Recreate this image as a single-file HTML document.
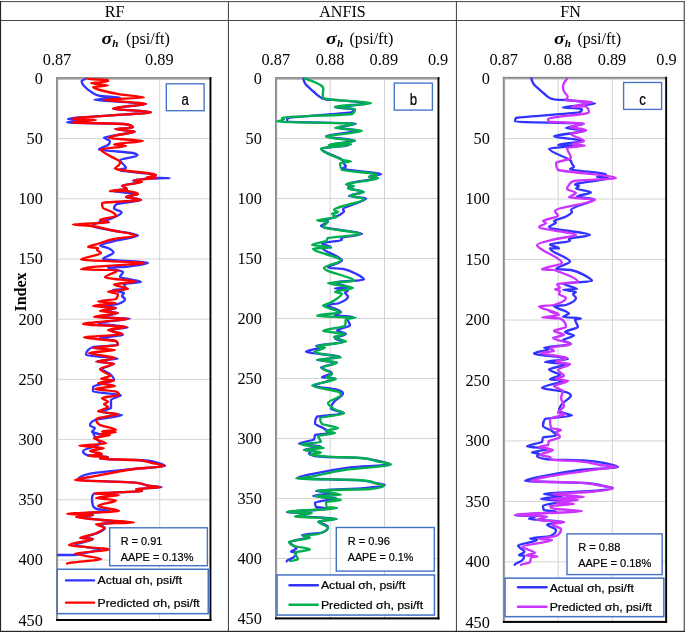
<!DOCTYPE html>
<html lang="en"><head><meta charset="utf-8"><title>Actual vs predicted minimum horizontal stress</title>
<style>html,body{margin:0;padding:0;background:#fff}body{width:685px;height:632px;overflow:hidden}svg{display:block}</style></head><body>
<svg width="685" height="632" viewBox="0 0 685 632">
<rect x="0" y="0" width="685" height="632" fill="#fff"/>
<g>
<rect x="0" y="1.1" width="685" height="1" fill="#484848"/>
<rect x="0" y="20" width="685" height="1" fill="#484848"/>
<rect x="227.9" y="1.1" width="1.1" height="631" fill="#4c4c4c"/>
<rect x="455.9" y="1.1" width="1.1" height="631" fill="#4c4c4c"/>
<rect x="683.6" y="1.1" width="1.4" height="631" fill="#686868"/>
<rect x="0" y="630.8" width="685" height="1.2" fill="#262626"/>
<rect x="0" y="1.1" width="1.1" height="631" fill="#262626"/>
</g>
<text x="114.7" y="16.5" font-family="Liberation Serif, serif" font-size="16.1" text-anchor="middle" fill="#000">RF</text>
<text x="342.5" y="16.5" font-family="Liberation Serif, serif" font-size="16.1" text-anchor="middle" fill="#000">ANFIS</text>
<text x="570.5" y="16.5" font-family="Liberation Serif, serif" font-size="16.1" text-anchor="middle" fill="#000">FN</text>
<g id="plot1">
<g stroke="#d4d4d4" stroke-width="1">
<line x1="56.0" y1="138.6" x2="211.4" y2="138.6"/>
<line x1="56.0" y1="198.8" x2="211.4" y2="198.8"/>
<line x1="56.0" y1="259.0" x2="211.4" y2="259.0"/>
<line x1="56.0" y1="319.2" x2="211.4" y2="319.2"/>
<line x1="56.0" y1="379.4" x2="211.4" y2="379.4"/>
<line x1="56.0" y1="439.6" x2="211.4" y2="439.6"/>
<line x1="56.0" y1="499.8" x2="211.4" y2="499.8"/>
<line x1="56.0" y1="560.0" x2="211.4" y2="560.0"/>
<line x1="159.7" y1="77.2" x2="159.7" y2="621.0"/>
</g>
<rect x="56.0" y="77.2" width="155.4" height="2.5" fill="#a4a4a4"/>
<rect x="56.0" y="77.2" width="2.2" height="543.8" fill="#a4a4a4"/>
<rect x="56.0" y="77.2" width="155.4" height="1.2" fill="#8c8c8c"/>
<rect x="56.0" y="77.2" width="1.2" height="543.8" fill="#8c8c8c"/>
<rect x="209.5" y="77.2" width="1.9" height="543.8" fill="#000"/>
<rect x="56.0" y="619.0" width="155.4" height="2" fill="#000"/>
<clipPath id="cp0"><rect x="56.0" y="77.2" width="155.4" height="543.8"/></clipPath>
<g clip-path="url(#cp0)" fill="none" stroke-width="2.35" stroke-linejoin="round" stroke-linecap="round">
<path d="M85.0,79.0C85.0,79.6 81.6,80.4 81.6,81.0C81.6,82.5 82.6,84.5 84.0,86.0C85.8,87.9 88.9,90.5 92.0,92.4C93.7,93.5 94.2,94.9 100.0,96.0C102.6,96.5 120.0,97.1 120.0,97.6C120.0,98.2 94.4,99.0 94.4,99.6C94.4,100.9 146.0,102.7 146.0,104.0C146.0,104.6 134.5,105.4 130.0,106.0C124.6,106.7 113.0,107.7 113.0,108.4C113.0,109.6 151.0,111.2 151.0,112.4C151.0,113.0 133.5,113.8 126.0,114.4C108.6,115.8 68.0,117.6 68.0,119.0C68.0,119.5 82.0,120.1 82.0,120.6C82.0,121.1 67.0,121.9 67.0,122.4C67.0,122.9 117.9,123.5 124.0,124.0C132.1,125.1 133.0,126.5 133.0,127.6C133.0,128.0 115.0,128.6 115.0,129.0C115.0,129.8 135.0,130.8 135.0,131.6C135.0,132.6 123.3,134.0 118.0,135.0C114.0,135.8 104.0,136.8 104.0,137.6C104.0,138.6 110.0,140.0 110.0,141.0C110.0,142.2 109.6,143.8 108.0,145.0C106.3,146.3 99.0,148.1 99.0,149.4C99.0,150.5 126.3,151.9 133.0,153.0C137.0,153.8 137.4,154.8 137.4,155.6C137.4,156.9 120.0,158.7 120.0,160.0C120.0,162.4 126.0,165.6 126.0,168.0C126.0,168.6 119.0,169.4 119.0,170.0C119.0,171.5 156.0,173.5 156.0,175.0C156.0,175.8 152.0,176.8 152.0,177.6C152.0,177.7 170.0,177.9 170.0,178.0C170.0,178.2 152.8,178.4 150.0,178.6C141.7,179.1 133.0,179.9 133.0,180.4C133.0,180.9 140.0,181.5 140.0,182.0C140.0,183.1 122.0,184.5 122.0,185.6C122.0,186.6 127.0,188.0 127.0,189.0C127.0,189.6 112.0,190.4 112.0,191.0C112.0,191.9 138.0,193.1 138.0,194.0C138.0,194.9 126.0,196.1 126.0,197.0C126.0,197.9 141.0,199.1 141.0,200.0C141.0,201.2 120.9,202.8 117.0,204.0C114.3,205.3 114.0,207.1 114.0,208.4C114.0,209.6 121.6,211.2 121.6,212.4C121.6,214.4 114.3,217.0 110.0,219.0C108.7,219.6 104.5,220.4 103.0,221.0C99.1,222.5 92.0,224.5 92.0,226.0C92.0,227.2 104.2,228.8 110.0,230.0C118.0,231.7 138.0,233.9 138.0,235.6C138.0,237.0 122.5,239.0 117.0,240.4C111.1,242.0 100.0,244.0 100.0,245.6C100.0,246.3 106.6,247.3 108.0,248.0C110.7,249.4 113.6,251.2 113.6,252.6C113.6,254.5 103.0,257.1 103.0,259.0C103.0,260.2 148.0,261.8 148.0,263.0C148.0,264.2 134.9,265.8 124.0,267.0C122.9,267.1 108.0,267.3 108.0,267.4C108.0,268.8 123.0,270.6 123.0,272.0C123.0,273.5 120.0,275.5 120.0,277.0C120.0,278.5 141.0,280.5 141.0,282.0C141.0,282.6 124.0,283.4 124.0,284.0C124.0,285.5 126.0,287.5 126.0,289.0C126.0,289.3 113.0,289.7 113.0,290.0C113.0,290.9 124.0,292.1 124.0,293.0C124.0,293.9 122.0,295.1 122.0,296.0C122.0,296.9 125.0,298.1 125.0,299.0C125.0,300.5 122.5,302.5 118.0,304.0C116.2,304.6 104.0,305.4 104.0,306.0C104.0,306.6 116.0,307.4 116.0,308.0C116.0,308.9 104.0,310.1 104.0,311.0C104.0,311.6 118.0,312.4 118.0,313.0C118.0,314.2 100.0,315.8 100.0,317.0C100.0,317.5 130.0,318.1 130.0,318.6C130.0,319.9 98.0,321.7 98.0,323.0C98.0,324.4 127.5,326.1 127.5,327.5C127.5,328.2 110.0,329.2 110.0,330.0C110.0,331.5 123.0,333.5 123.0,335.0C123.0,335.9 100.0,337.1 100.0,338.0C100.0,338.9 113.7,340.1 116.0,341.0C117.8,342.2 118.0,343.8 118.0,345.0C118.0,345.6 94.9,346.4 93.0,347.0C86.7,349.4 86.0,352.6 86.0,355.0C86.0,356.1 118.0,357.5 118.0,358.6C118.0,359.5 96.0,360.7 96.0,361.6C96.0,362.2 114.0,363.0 114.0,363.6C114.0,365.2 102.0,367.4 102.0,369.0C102.0,370.5 108.4,372.5 110.0,374.0C112.0,375.8 114.0,378.2 114.0,380.0C114.0,382.1 93.0,384.9 93.0,387.0C93.0,388.4 93.0,390.2 93.0,391.6C93.0,392.6 121.0,394.0 121.0,395.0C121.0,396.5 111.0,398.5 111.0,400.0C111.0,402.4 111.0,405.6 111.0,408.0C111.0,409.1 100.0,410.5 100.0,411.6C100.0,412.6 122.0,414.0 122.0,415.0C122.0,416.5 99.5,418.5 95.0,420.0C90.5,421.7 90.0,423.9 90.0,425.6C90.0,426.3 95.0,427.3 95.0,428.0C95.0,429.2 92.0,430.8 92.0,432.0C92.0,432.9 102.0,434.1 102.0,435.0L93.0,432.0C93.0,433.5 94.1,435.5 95.0,437.0C96.2,439.0 100.0,441.6 100.0,443.6C100.0,445.8 83.0,448.8 83.0,451.0C83.0,452.2 83.4,453.8 87.0,455.0C89.5,455.6 108.0,456.4 108.0,457.0C108.0,457.6 100.0,458.4 100.0,459.0C100.0,459.3 128.5,459.7 136.0,460.0C143.5,460.3 148.6,460.7 150.0,461.0C157.2,462.5 165.0,464.5 165.0,466.0C165.0,466.9 142.9,468.1 134.0,469.0C120.4,470.4 97.0,472.2 90.0,473.6C80.2,475.5 78.0,478.1 78.0,480.0C78.0,480.7 123.0,481.7 132.0,482.4C144.0,483.4 142.1,484.6 148.0,485.6C151.0,486.1 161.6,486.7 161.6,487.2C161.6,487.7 136.0,488.5 136.0,489.0C136.0,489.6 142.0,490.4 142.0,491.0C142.0,491.8 99.6,492.8 94.0,493.6C92.2,494.9 92.0,496.7 92.0,498.0C92.0,500.4 92.1,503.6 93.0,506.0C93.4,506.9 93.9,508.1 97.0,509.0C99.0,509.6 110.0,510.4 110.0,511.0C110.0,511.9 80.0,513.1 80.0,514.0C80.0,514.3 93.0,514.7 93.0,515.0C93.0,515.6 80.0,516.4 80.0,517.0C80.0,517.9 95.3,519.1 102.0,520.0C107.3,520.7 120.0,521.7 120.0,522.4C120.0,522.9 100.0,523.5 100.0,524.0C100.0,525.2 105.0,526.8 105.0,528.0C105.0,529.5 101.2,531.5 98.0,533.0C94.8,534.5 84.0,536.5 84.0,538.0C84.0,538.3 93.0,538.7 93.0,539.0C93.0,540.8 75.0,543.2 75.0,545.0C75.0,546.4 100.0,548.2 100.0,549.6C100.0,550.7 87.5,552.3 82.0,553.4C79.7,553.9 81.2,554.5 74.0,555.0L58.0,555.0" stroke="#3333FF"/>
<path d="M87.0,79.0C87.0,79.3 108.0,79.7 108.0,80.0C108.0,80.5 108.0,81.1 108.0,81.6C108.0,82.0 91.0,82.6 91.0,83.0C91.0,83.8 108.0,84.8 108.0,85.6C108.0,86.0 93.0,86.6 93.0,87.0C93.0,87.9 96.7,89.1 100.0,90.0C104.8,91.3 112.4,93.1 120.0,94.4C125.6,95.4 144.0,96.6 144.0,97.6C144.0,98.2 104.0,99.0 104.0,99.6C104.0,100.9 146.0,102.7 146.0,104.0C146.0,104.6 134.5,105.4 130.0,106.0C124.6,106.7 113.0,107.7 113.0,108.4C113.0,109.6 151.0,111.2 151.0,112.4C151.0,113.0 133.2,113.8 126.0,114.4C109.5,115.8 72.0,117.6 72.0,119.0C72.0,119.3 96.0,119.7 96.0,120.0C96.0,120.7 72.0,121.7 72.0,122.4C72.0,122.9 118.4,123.5 124.0,124.0C132.1,125.1 133.0,126.5 133.0,127.6C133.0,128.0 115.0,128.6 115.0,129.0C115.0,129.8 135.0,130.8 135.0,131.6C135.0,132.6 122.1,134.0 118.0,135.0C114.3,135.9 109.0,137.1 109.0,138.0C109.0,138.9 143.0,140.1 143.0,141.0C143.0,142.0 114.0,143.4 114.0,144.4C114.0,144.9 126.0,145.5 126.0,146.0C126.0,147.0 101.0,148.4 101.0,149.4C101.0,151.4 107.0,154.0 110.0,156.0C112.7,157.8 120.0,160.2 120.0,162.0C120.0,162.9 119.7,164.1 119.0,165.0C118.2,166.0 115.0,167.4 115.0,168.4C115.0,168.9 118.0,169.5 121.0,170.0C130.3,171.5 156.0,173.5 156.0,175.0C156.0,175.9 146.0,177.1 146.0,178.0L156.0,178.0C156.0,178.7 134.0,179.7 134.0,180.4C134.0,180.9 142.0,181.5 142.0,182.0C142.0,183.1 122.0,184.5 122.0,185.6C122.0,186.6 127.0,188.0 127.0,189.0C127.0,189.6 110.0,190.4 110.0,191.0L126.0,191.0C134.4,191.9 138.0,193.1 138.0,194.0C138.0,194.9 126.0,196.1 126.0,197.0C126.0,197.9 141.0,199.1 141.0,200.0C141.0,200.9 102.0,202.1 102.0,203.0C102.0,204.5 102.1,206.5 103.0,208.0C104.3,209.2 110.0,210.8 112.0,212.0C114.0,213.2 116.0,214.8 116.0,216.0C116.0,217.2 100.0,218.8 100.0,220.0C100.0,220.7 109.0,221.7 109.0,222.4C109.0,223.0 73.0,223.8 73.0,224.4C73.0,224.9 88.8,225.5 92.0,226.0C99.9,227.2 104.5,228.8 110.0,230.0C117.7,231.7 136.0,233.9 136.0,235.6C136.0,236.6 118.6,238.0 114.0,239.0C106.6,240.6 101.3,242.8 96.0,244.4C93.5,245.2 88.0,246.2 88.0,247.0C88.0,247.3 98.0,247.7 98.0,248.0C98.0,248.6 97.0,249.4 97.0,250.0C97.0,250.9 101.0,252.1 101.0,253.0C101.0,255.0 81.0,257.6 81.0,259.6C81.0,260.6 144.0,262.0 144.0,263.0C144.0,264.2 104.5,265.8 93.0,267.0C85.6,267.8 81.0,268.8 81.0,269.6C81.0,269.7 118.0,269.9 118.0,270.0C118.0,272.2 105.0,275.2 105.0,277.4C105.0,278.7 136.0,280.3 136.0,281.6C136.0,282.4 114.0,283.6 114.0,284.4C114.0,285.8 128.0,287.6 128.0,289.0C128.0,289.8 108.0,290.8 108.0,291.6C108.0,292.3 118.0,293.3 118.0,294.0C118.0,295.5 117.8,297.5 116.0,299.0C113.9,299.8 98.0,300.8 98.0,301.6C98.0,302.0 116.0,302.6 116.0,303.0C116.0,303.9 93.0,305.1 93.0,306.0C93.0,306.6 116.0,307.4 116.0,308.0C116.0,308.9 100.0,310.1 100.0,311.0C100.0,311.6 118.0,312.4 118.0,313.0C118.0,314.2 94.0,315.8 94.0,317.0C94.0,317.5 128.0,318.1 128.0,318.6C128.0,320.2 83.0,322.4 83.0,324.0C83.0,324.9 126.0,326.1 126.0,327.0C126.0,327.9 108.0,329.1 108.0,330.0C108.0,331.2 122.0,332.8 122.0,334.0C122.0,335.1 84.0,336.5 84.0,337.6C84.0,338.6 111.3,340.0 116.0,341.0C117.8,342.2 118.0,343.8 118.0,345.0C118.0,345.9 93.0,347.1 93.0,348.0C93.0,348.6 115.0,349.4 115.0,350.0C115.0,350.9 89.0,352.1 89.0,353.0C89.0,354.5 115.0,356.5 115.0,358.0C115.0,359.1 97.0,360.5 97.0,361.6C97.0,362.2 114.0,363.0 114.0,363.6C114.0,365.2 100.0,367.4 100.0,369.0C100.0,371.1 110.0,373.9 110.0,376.0C110.0,376.9 101.0,378.1 101.0,379.0C101.0,379.4 114.0,380.0 114.0,380.4C114.0,381.2 98.0,382.2 98.0,383.0C98.0,383.9 115.0,385.1 115.0,386.0C115.0,386.9 95.0,388.1 95.0,389.0C95.0,389.8 112.9,390.8 116.0,391.6C118.7,392.6 119.0,394.0 119.0,395.0C119.0,395.9 102.0,397.1 102.0,398.0C102.0,399.2 108.0,400.8 108.0,402.0C108.0,402.6 104.0,403.4 104.0,404.0C104.0,404.9 108.0,406.1 108.0,407.0C108.0,408.4 98.0,410.2 98.0,411.6C98.0,412.3 118.0,413.3 118.0,414.0C118.0,415.5 96.0,417.5 96.0,419.0C96.0,420.8 96.7,423.2 100.0,425.0C102.7,426.5 116.0,428.5 116.0,430.0C116.0,430.4 102.0,431.1 102.0,431.5C102.0,431.6 116.0,431.9 116.0,432.0C116.0,432.6 100.0,433.4 100.0,434.0C100.0,434.3 110.0,434.7 110.0,435.0C110.0,435.9 94.0,437.1 94.0,438.0C94.0,439.7 106.0,441.9 106.0,443.6C106.0,444.2 79.0,445.0 79.0,445.6C79.0,446.3 104.0,447.3 104.0,448.0C104.0,448.9 90.0,450.1 90.0,451.0C90.0,451.9 102.0,453.1 102.0,454.0C102.0,454.6 88.0,455.4 88.0,456.0C88.0,456.3 108.0,456.7 108.0,457.0C108.0,457.6 100.0,458.4 100.0,459.0C100.0,459.3 132.1,459.7 136.0,460.0C147.7,460.9 147.8,462.1 152.0,463.0C156.2,463.9 164.0,465.1 164.0,466.0C164.0,466.9 140.1,468.1 134.0,469.0C117.9,471.4 102.9,474.6 90.0,477.0C85.2,477.9 75.0,479.1 75.0,480.0C75.0,480.7 122.6,481.7 132.0,482.4C144.5,483.4 142.4,484.6 148.0,485.6C150.8,486.1 160.0,486.7 160.0,487.2C160.0,487.7 136.0,488.5 136.0,489.0C136.0,489.6 142.0,490.4 142.0,491.0C142.0,491.8 94.0,492.8 94.0,493.6C94.0,494.0 119.0,494.6 119.0,495.0C119.0,495.9 96.0,497.1 96.0,498.0C96.0,498.7 116.0,499.7 116.0,500.4C116.0,502.1 98.0,504.3 98.0,506.0C98.0,507.5 119.0,509.5 119.0,511.0C119.0,511.9 67.0,513.1 67.0,514.0C67.0,514.3 93.0,514.7 93.0,515.0C93.0,515.6 76.0,516.4 76.0,517.0C76.0,517.9 92.3,519.1 102.0,520.0C109.7,520.7 134.0,521.7 134.0,522.4C134.0,522.9 96.0,523.5 96.0,524.0C96.0,525.2 104.0,526.8 104.0,528.0C104.0,529.8 98.3,532.2 94.0,534.0C91.1,535.2 80.0,536.8 80.0,538.0C80.0,538.3 93.0,538.7 93.0,539.0C93.0,540.8 69.0,543.2 69.0,545.0C69.0,546.4 110.0,548.2 110.0,549.6C110.0,550.8 75.0,552.4 75.0,553.6C75.0,555.2 101.0,557.4 101.0,559.0C101.0,560.4 67.0,562.2 67.0,563.6" stroke="#FF0000"/>
</g>
<rect x="109.7" y="527.8" width="97.7" height="37.9" fill="#fff" stroke="#4472C4" stroke-width="1.4"/>
<g font-family="Liberation Sans, sans-serif" font-size="11.4" fill="#000" stroke="#000" stroke-width="0.2">
<text x="120.7" y="544.7" textLength="41.6" lengthAdjust="spacingAndGlyphs">R = 0.91</text>
<text x="120.7" y="560.5" textLength="72.7" lengthAdjust="spacingAndGlyphs">AAPE = 0.13%</text>
</g>
<rect x="57.25" y="569.25" width="151.00" height="44.40" fill="#fff" stroke="#4472C4" stroke-width="1.5"/>
<line x1="66.1" y1="580.4" x2="94.0" y2="580.4" stroke="#3333FF" stroke-width="2.4" stroke-linecap="round"/>
<line x1="66.1" y1="602.6" x2="94.0" y2="602.6" stroke="#FF0000" stroke-width="2.4" stroke-linecap="round"/>
<g font-family="Liberation Sans, sans-serif" font-size="11.3" fill="#000" stroke="#000" stroke-width="0.22">
<text x="97.6" y="584.2" textLength="84.6" lengthAdjust="spacingAndGlyphs">Actual σh, psi/ft</text>
<text x="97.6" y="606.6" textLength="102.1" lengthAdjust="spacingAndGlyphs">Predicted σh, psi/ft</text>
</g>
<rect x="166.3" y="83.8" width="37.8" height="26.9" fill="#fff" stroke="#4472C4" stroke-width="1.35"/>
<text transform="translate(185.2,104.6) scale(0.84,1)" font-family="Liberation Sans, sans-serif" font-size="15.8" text-anchor="middle" fill="#000" stroke="#000" stroke-width="0.2">a</text>
<text x="42.9" y="83.8" font-family="Liberation Serif, serif" font-size="16.3" text-anchor="end" fill="#000">0</text>
<text x="42.9" y="144.0" font-family="Liberation Serif, serif" font-size="16.3" text-anchor="end" fill="#000">50</text>
<text x="42.9" y="204.2" font-family="Liberation Serif, serif" font-size="16.3" text-anchor="end" fill="#000">100</text>
<text x="42.9" y="264.4" font-family="Liberation Serif, serif" font-size="16.3" text-anchor="end" fill="#000">150</text>
<text x="42.9" y="324.6" font-family="Liberation Serif, serif" font-size="16.3" text-anchor="end" fill="#000">200</text>
<text x="42.9" y="384.8" font-family="Liberation Serif, serif" font-size="16.3" text-anchor="end" fill="#000">250</text>
<text x="42.9" y="445.0" font-family="Liberation Serif, serif" font-size="16.3" text-anchor="end" fill="#000">300</text>
<text x="42.9" y="505.2" font-family="Liberation Serif, serif" font-size="16.3" text-anchor="end" fill="#000">350</text>
<text x="42.9" y="565.4" font-family="Liberation Serif, serif" font-size="16.3" text-anchor="end" fill="#000">400</text>
<text x="42.9" y="625.6" font-family="Liberation Serif, serif" font-size="16.3" text-anchor="end" fill="#000">450</text>
<text x="57" y="64.5" font-family="Liberation Serif, serif" font-size="16.3" text-anchor="middle" fill="#000">0.87</text>
<text x="159.3" y="64.5" font-family="Liberation Serif, serif" font-size="16.3" text-anchor="middle" fill="#000">0.89</text>
<text transform="translate(101.5,43.5) scale(1.2,1)" font-family="Liberation Serif, serif" font-size="16.5" font-weight="bold" font-style="italic" fill="#000">σ</text>
<text x="112.3" y="46.7" font-family="Liberation Serif, serif" font-size="11" font-weight="bold" font-style="italic" fill="#000">h</text>
<text x="126.1" y="43.5" font-family="Liberation Serif, serif" font-size="16.1" fill="#000">(psi/ft)</text>
</g>
<g id="plot2">
<g stroke="#d4d4d4" stroke-width="1">
<line x1="275.0" y1="138.5" x2="439.4" y2="138.5"/>
<line x1="275.0" y1="198.5" x2="439.4" y2="198.5"/>
<line x1="275.0" y1="258.5" x2="439.4" y2="258.5"/>
<line x1="275.0" y1="318.5" x2="439.4" y2="318.5"/>
<line x1="275.0" y1="378.5" x2="439.4" y2="378.5"/>
<line x1="275.0" y1="438.5" x2="439.4" y2="438.5"/>
<line x1="275.0" y1="498.5" x2="439.4" y2="498.5"/>
<line x1="275.0" y1="558.5" x2="439.4" y2="558.5"/>
<line x1="330.2" y1="77.2" x2="330.2" y2="619.4"/>
<line x1="384.5" y1="77.2" x2="384.5" y2="619.4"/>
</g>
<rect x="275.0" y="77.2" width="164.4" height="2.5" fill="#a4a4a4"/>
<rect x="275.0" y="77.2" width="2.2" height="542.2" fill="#a4a4a4"/>
<rect x="275.0" y="77.2" width="164.4" height="1.2" fill="#8c8c8c"/>
<rect x="275.0" y="77.2" width="1.2" height="542.2" fill="#8c8c8c"/>
<rect x="437.5" y="77.2" width="1.9" height="542.2" fill="#000"/>
<rect x="275.0" y="617.4" width="164.4" height="2" fill="#000"/>
<clipPath id="cp1"><rect x="275.0" y="77.2" width="164.39999999999998" height="542.1999999999999"/></clipPath>
<g clip-path="url(#cp1)" fill="none" stroke-width="2.35" stroke-linejoin="round" stroke-linecap="round">
<path d="M303.4,78.6C303.4,79.3 303.7,80.3 304.0,81.0C304.4,82.0 305.0,83.4 305.8,84.5C306.6,85.5 308.2,86.9 309.3,87.9C310.6,89.1 312.6,90.8 314.0,92.0C315.4,93.2 317.1,94.8 318.7,96.1C319.6,96.7 320.7,97.7 322.2,98.3C323.0,98.7 324.1,99.2 326.3,99.5C327.0,99.7 329.7,99.8 332.0,99.9L338.0,100.1C347.9,101.1 367.0,102.5 367.0,103.5C367.0,104.7 335.0,106.3 335.0,107.5C335.0,107.9 354.0,108.6 354.0,109.1C354.0,110.1 353.7,111.4 351.0,112.4C338.7,114.1 299.7,116.3 288.0,118.0C287.1,119.1 287.0,120.5 287.0,121.6C287.0,122.2 356.0,123.0 356.0,123.5C356.0,124.9 338.0,126.6 338.0,127.9C338.0,128.7 358.0,129.7 358.0,130.5C358.0,132.2 326.0,134.5 326.0,136.2C326.0,137.6 355.0,139.4 355.0,140.8C355.0,142.0 330.0,143.6 330.0,144.8C330.0,145.0 348.0,145.2 348.0,145.4C348.0,146.3 321.0,147.5 321.0,148.4C321.0,151.7 336.9,156.3 342.0,159.7C343.8,160.9 343.3,162.4 344.0,163.6C344.5,164.5 346.0,165.7 346.0,166.6C346.0,167.2 342.0,168.0 342.0,168.6C342.0,170.3 381.0,172.5 381.0,174.2C381.0,174.9 369.0,175.8 369.0,176.5C369.0,176.8 377.0,177.2 377.0,177.5C377.0,179.5 347.0,182.1 347.0,184.1C347.0,184.5 351.0,185.0 351.0,185.5C351.0,186.2 348.0,187.1 348.0,187.8C348.0,189.0 363.0,190.6 363.0,191.8C363.0,193.1 349.0,194.7 349.0,196.0C349.0,196.7 366.0,197.6 366.0,198.4C366.0,201.6 343.0,206.0 343.0,209.3C343.0,209.9 344.0,210.7 344.0,211.3C344.0,212.7 340.0,214.7 337.0,216.2C334.6,217.4 326.0,219.0 326.0,220.2C326.0,220.6 328.0,221.2 328.0,221.6C328.0,222.9 321.0,224.8 321.0,226.1C321.0,228.5 362.0,231.7 362.0,234.1C362.0,235.3 341.0,236.9 341.0,238.0C341.0,238.6 342.0,239.4 342.0,240.0C342.0,241.0 322.0,242.4 322.0,243.4C322.0,244.6 331.0,246.2 331.0,247.4L322.0,247.4C322.0,251.3 342.0,256.5 342.0,260.5C342.0,262.7 328.0,265.6 328.0,267.8C328.0,268.1 341.6,268.5 343.0,268.8C350.0,270.3 353.1,272.3 356.0,273.8C359.4,275.6 364.0,277.9 364.0,279.7C364.0,280.5 335.0,281.5 335.0,282.3C335.0,283.9 349.0,286.0 349.0,287.7C349.0,287.8 335.0,288.1 335.0,288.3C335.0,289.0 348.0,289.9 348.0,290.6C348.0,291.2 345.0,292.0 345.0,292.6C345.0,293.8 348.0,295.4 348.0,296.6C348.0,298.7 343.8,301.4 338.0,303.5C337.2,303.8 326.0,304.2 326.0,304.5C326.0,306.0 334.0,308.0 337.0,309.5C338.5,310.3 341.0,311.3 341.0,312.1C341.0,313.1 335.0,314.4 335.0,315.4C335.0,315.9 353.0,316.4 353.0,316.8C353.0,317.2 347.0,317.7 347.0,318.0C347.0,320.2 350.0,323.2 350.0,325.4C350.0,326.8 337.0,328.8 337.0,330.3C337.0,331.4 346.0,332.8 346.0,333.9C346.0,335.2 335.0,336.9 335.0,338.3C335.0,339.4 343.0,341.0 343.0,342.2C343.0,343.3 316.0,344.7 316.0,345.8C316.0,346.2 321.0,346.8 321.0,347.2C321.0,348.5 306.0,350.2 306.0,351.6C306.0,353.2 340.0,355.4 340.0,357.1C340.0,358.0 317.0,359.2 317.0,360.1C317.0,360.8 337.0,361.8 337.0,362.5C337.0,364.0 321.0,366.1 321.0,367.6C321.0,369.2 332.0,371.4 332.0,373.0C332.0,374.3 322.0,376.0 322.0,377.4C322.0,377.6 335.0,378.0 335.0,378.3C335.0,380.6 314.0,383.6 314.0,385.9C314.0,387.0 331.9,388.4 336.0,389.5C340.6,390.6 343.0,392.2 343.0,393.4C343.0,395.6 337.1,398.6 335.0,400.8C333.8,402.0 332.6,403.5 332.0,404.7C331.4,405.9 331.0,407.5 331.0,408.7C331.0,410.1 344.0,411.9 344.0,413.3C344.0,414.3 319.8,415.6 317.0,416.6C315.2,418.7 315.0,421.5 315.0,423.6C315.0,425.1 322.0,427.1 324.0,428.5C325.9,429.9 328.0,431.7 328.0,433.1C328.0,433.7 316.3,434.5 315.0,435.1C314.1,436.4 314.9,438.2 314.0,439.5C311.6,440.8 299.0,442.5 299.0,443.8C299.0,444.6 321.0,445.6 321.0,446.4C321.0,447.4 304.0,448.8 304.0,449.8C304.0,450.1 311.0,450.6 311.0,451.0C311.0,451.7 309.0,452.6 309.0,453.4C309.0,454.4 311.5,455.9 323.0,456.9C325.6,457.2 352.3,457.5 356.0,457.7C368.2,458.5 372.0,459.5 376.0,460.3C382.2,461.5 390.0,463.1 390.0,464.3C390.0,465.2 359.1,466.4 352.0,467.2C335.4,469.3 321.5,472.1 311.0,474.2C305.0,475.4 297.0,477.0 297.0,478.2C297.0,478.8 347.5,479.5 357.0,480.1C371.2,481.0 371.0,482.2 376.0,483.1C379.4,483.7 385.0,484.5 385.0,485.1C385.0,486.0 374.3,487.2 364.0,488.1C353.6,489.0 316.0,490.2 316.0,491.1C316.0,491.7 334.0,492.4 334.0,493.0C334.0,493.9 313.0,495.1 313.0,496.0C313.0,496.6 336.0,497.4 336.0,498.0C336.0,499.4 315.0,501.2 315.0,502.6C315.0,503.9 315.1,505.6 316.0,506.9C317.0,507.4 328.0,508.0 328.0,508.5C328.0,509.7 287.0,511.3 287.0,512.5C287.0,512.6 308.0,512.8 308.0,512.9C308.0,513.8 301.0,515.0 301.0,515.9C301.0,516.8 336.0,517.9 336.0,518.8C336.0,519.6 319.0,520.5 319.0,521.2C319.0,522.9 328.0,525.1 328.0,526.8C328.0,528.6 327.4,530.9 322.0,532.7C319.8,533.4 302.0,534.4 302.0,535.1C302.0,535.6 309.0,536.2 309.0,536.7C309.0,538.4 290.0,540.6 290.0,542.3C290.0,544.2 296.5,546.7 296.5,548.6C296.5,549.6 291.0,550.8 291.0,551.8C291.0,551.9 296.3,552.1 296.3,552.3C296.3,553.7 295.5,555.6 294.0,557.0C292.7,558.3 286.7,560.0 286.7,561.2" stroke="#3333FF"/>
<path d="M304.7,78.2C304.7,78.9 309.2,79.9 310.9,80.6C313.1,81.5 316.1,82.8 318.0,83.7C319.5,84.5 321.4,85.5 322.1,86.2C323.0,87.1 323.3,88.4 323.3,89.3C323.3,90.8 322.8,92.9 322.8,94.4C322.8,95.3 322.8,96.4 322.8,97.3C322.8,97.8 324.3,98.5 327.2,99.0C329.4,99.4 335.7,99.9 340.0,100.3C348.9,101.1 371.0,102.2 371.0,103.0C371.0,104.2 335.0,105.8 335.0,107.0C335.0,107.6 355.0,108.4 355.0,109.0C355.0,110.5 354.7,112.5 352.0,114.0C342.5,115.1 282.0,116.7 282.0,117.8C282.0,118.3 284.0,119.1 284.0,119.6C284.0,120.2 276.5,121.0 276.5,121.6C276.5,122.2 355.0,123.0 355.0,123.6C355.0,124.9 335.0,126.7 335.0,128.0C335.0,128.8 362.0,129.8 362.0,130.6C362.0,132.5 326.0,135.1 326.0,137.0C326.0,138.2 355.0,139.8 355.0,141.0C355.0,142.2 329.0,143.8 329.0,145.0L351.0,144.4C351.0,145.7 321.0,147.3 321.0,148.6C321.0,152.0 335.1,156.6 343.0,160.0C344.1,160.5 351.0,161.1 351.0,161.6C351.0,162.0 340.0,162.6 340.0,163.0C340.0,165.1 340.2,167.9 342.0,170.0C346.3,171.3 377.0,173.1 377.0,174.4C377.0,175.2 369.0,176.2 369.0,177.0C369.0,177.3 378.0,177.7 378.0,178.0C378.0,180.0 346.0,182.6 346.0,184.6C346.0,185.0 354.0,185.6 354.0,186.0C354.0,186.7 348.0,187.7 348.0,188.4C348.0,189.5 364.0,190.9 364.0,192.0C364.0,193.1 350.0,194.5 350.0,195.6C350.0,196.6 364.0,198.0 364.0,199.0C364.0,202.3 334.0,206.7 334.0,210.0C334.0,210.6 338.0,211.4 338.0,212.0C338.0,212.6 332.0,213.4 332.0,214.0C332.0,214.9 337.0,216.1 337.0,217.0C337.0,218.0 317.0,219.4 317.0,220.4C317.0,220.8 328.0,221.2 328.0,221.6C328.0,223.2 323.0,225.4 323.0,227.0C323.0,229.1 360.0,231.9 360.0,234.0C360.0,235.2 333.8,236.8 328.0,238.0C326.2,238.9 327.8,240.1 326.0,241.0C323.3,242.2 312.0,243.8 312.0,245.0C312.0,245.7 331.0,246.7 331.0,247.4C331.0,247.8 313.0,248.2 313.0,248.6C313.0,252.1 341.0,256.9 341.0,260.4C341.0,262.7 324.0,265.7 324.0,268.0C324.0,271.9 354.0,277.1 354.0,281.0C354.0,281.6 328.0,282.4 328.0,283.0C328.0,284.5 353.0,286.5 353.0,288.0C353.0,289.2 335.0,290.8 335.0,292.0C335.0,292.5 342.0,293.1 342.0,293.6C342.0,296.4 334.5,300.2 330.0,303.0C328.8,303.8 323.0,304.8 323.0,305.6C323.0,307.6 340.0,310.4 340.0,312.4C340.0,313.4 317.0,314.6 317.0,315.6C317.0,315.7 317.0,315.9 317.0,316.0C317.0,316.5 356.0,317.1 356.0,317.6C356.0,318.0 346.6,318.6 346.0,319.0C345.1,321.1 345.9,323.9 345.0,326.0C342.1,327.5 323.0,329.5 323.0,331.0C323.0,331.9 345.0,333.1 345.0,334.0C345.0,334.9 334.0,336.1 334.0,337.0C334.0,338.4 346.0,340.2 346.0,341.6C346.0,343.0 317.0,345.0 317.0,346.4C317.0,346.8 325.0,347.2 325.0,347.6C325.0,348.9 314.0,350.7 314.0,352.0C314.0,353.7 341.0,355.9 341.0,357.6C341.0,358.2 317.0,359.0 317.0,359.6C317.0,360.4 337.0,361.6 337.0,362.4C337.0,364.1 322.0,366.3 322.0,368.0C322.0,369.8 332.0,372.2 332.0,374.0C332.0,375.2 326.0,376.8 326.0,378.0C326.0,378.3 336.0,378.7 336.0,379.0C336.0,381.0 312.0,383.6 312.0,385.6C312.0,387.4 332.4,389.8 338.0,391.6C340.7,392.6 341.0,394.0 341.0,395.0C341.0,397.4 328.0,400.6 328.0,403.0C328.0,404.8 331.3,407.2 334.0,409.0C336.1,410.4 344.0,412.2 344.0,413.6C344.0,414.9 320.0,416.7 320.0,418.0C320.0,419.8 320.2,422.2 322.0,424.0C324.2,425.2 338.0,426.8 338.0,428.0C338.0,428.9 326.0,430.1 326.0,431.0C326.0,431.6 335.0,432.4 335.0,433.0C335.0,433.9 318.0,435.1 318.0,436.0C318.0,437.8 321.0,440.2 321.0,442.0C321.0,442.7 301.0,443.7 301.0,444.4C301.0,445.5 324.0,446.9 324.0,448.0C324.0,448.6 304.0,449.4 304.0,450.0C304.0,450.7 321.0,451.7 321.0,452.4C321.0,453.0 310.0,453.8 310.0,454.4C310.0,455.1 318.5,455.9 328.0,456.6C334.1,457.0 357.4,457.6 362.0,458.0C371.8,458.9 371.9,460.1 376.0,461.0C380.6,462.0 391.0,463.4 391.0,464.4C391.0,466.1 354.9,468.3 344.0,470.0C330.3,472.1 320.7,474.9 309.0,477.0C306.3,477.5 296.0,478.1 296.0,478.6C296.0,479.0 351.2,479.6 358.0,480.0C375.1,481.1 372.0,482.5 377.0,483.6C379.8,484.2 384.0,485.0 384.0,485.6C384.0,486.6 382.6,488.0 370.0,489.0C363.6,489.5 317.0,490.1 317.0,490.6C317.0,491.3 329.1,492.3 333.0,493.0C336.3,493.6 341.0,494.4 341.0,495.0C341.0,495.3 315.0,495.7 315.0,496.0C315.0,497.2 341.0,498.8 341.0,500.0C341.0,500.6 326.0,501.4 326.0,502.0C326.0,503.5 326.1,505.5 327.0,507.0C327.6,507.3 337.0,507.7 337.0,508.0C337.0,509.2 287.0,510.8 287.0,512.0C287.0,512.3 312.0,512.7 312.0,513.0C312.0,514.0 295.0,515.4 295.0,516.4C295.0,517.2 337.0,518.2 337.0,519.0C337.0,519.8 318.0,520.8 318.0,521.6C318.0,523.5 328.0,526.1 328.0,528.0C328.0,529.8 323.6,532.2 318.0,534.0C316.1,534.6 303.0,535.4 303.0,536.0C303.0,536.6 310.0,537.4 310.0,538.0C310.0,539.1 289.0,540.5 289.0,541.6C289.0,542.9 290.4,544.7 294.0,546.0C296.7,547.0 310.0,548.4 310.0,549.4C310.0,550.4 295.0,551.6 295.0,552.6C295.0,554.7 298.0,557.5 298.0,559.6C298.0,560.0 290.0,560.6 290.0,561.0" stroke="#00B050"/>
</g>
<rect x="336.3" y="527.5" width="98.0" height="43.6" fill="#fff" stroke="#4472C4" stroke-width="1.4"/>
<g font-family="Liberation Sans, sans-serif" font-size="11.4" fill="#000" stroke="#000" stroke-width="0.2">
<text x="347.7" y="545.1" textLength="42.2" lengthAdjust="spacingAndGlyphs">R = 0.96</text>
<text x="347.7" y="561.2" textLength="65.8" lengthAdjust="spacingAndGlyphs">AAPE = 0.1%</text>
</g>
<rect x="277.05" y="574.95" width="157.40" height="40.10" fill="#fff" stroke="#4472C4" stroke-width="1.5"/>
<line x1="289.5" y1="585.3" x2="317.8" y2="585.3" stroke="#3333FF" stroke-width="2.4" stroke-linecap="round"/>
<line x1="289.5" y1="604.7" x2="317.8" y2="604.7" stroke="#00B050" stroke-width="2.4" stroke-linecap="round"/>
<g font-family="Liberation Sans, sans-serif" font-size="11.3" fill="#000" stroke="#000" stroke-width="0.22">
<text x="320.9" y="589.3" textLength="84.4" lengthAdjust="spacingAndGlyphs">Actual σh, psi/ft</text>
<text x="320.9" y="608.8" textLength="102.3" lengthAdjust="spacingAndGlyphs">Predicted σh, psi/ft</text>
</g>
<rect x="394.3" y="83.1" width="38.1" height="27.0" fill="#fff" stroke="#4472C4" stroke-width="1.35"/>
<text transform="translate(413.4,104.6) scale(0.84,1)" font-family="Liberation Sans, sans-serif" font-size="15.8" text-anchor="middle" fill="#000" stroke="#000" stroke-width="0.2">b</text>
<text x="261.9" y="83.9" font-family="Liberation Serif, serif" font-size="16.3" text-anchor="end" fill="#000">0</text>
<text x="261.9" y="143.9" font-family="Liberation Serif, serif" font-size="16.3" text-anchor="end" fill="#000">50</text>
<text x="261.9" y="203.9" font-family="Liberation Serif, serif" font-size="16.3" text-anchor="end" fill="#000">100</text>
<text x="261.9" y="263.9" font-family="Liberation Serif, serif" font-size="16.3" text-anchor="end" fill="#000">150</text>
<text x="261.9" y="323.9" font-family="Liberation Serif, serif" font-size="16.3" text-anchor="end" fill="#000">200</text>
<text x="261.9" y="383.9" font-family="Liberation Serif, serif" font-size="16.3" text-anchor="end" fill="#000">250</text>
<text x="261.9" y="443.9" font-family="Liberation Serif, serif" font-size="16.3" text-anchor="end" fill="#000">300</text>
<text x="261.9" y="503.9" font-family="Liberation Serif, serif" font-size="16.3" text-anchor="end" fill="#000">350</text>
<text x="261.9" y="563.9" font-family="Liberation Serif, serif" font-size="16.3" text-anchor="end" fill="#000">400</text>
<text x="261.9" y="623.9" font-family="Liberation Serif, serif" font-size="16.3" text-anchor="end" fill="#000">450</text>
<text x="275.8" y="64.5" font-family="Liberation Serif, serif" font-size="16.3" text-anchor="middle" fill="#000">0.87</text>
<text x="330.1" y="64.5" font-family="Liberation Serif, serif" font-size="16.3" text-anchor="middle" fill="#000">0.88</text>
<text x="383.8" y="64.5" font-family="Liberation Serif, serif" font-size="16.3" text-anchor="middle" fill="#000">0.89</text>
<text x="438.1" y="64.5" font-family="Liberation Serif, serif" font-size="16.3" text-anchor="middle" fill="#000">0.9</text>
<text transform="translate(326.1,43.5) scale(1.2,1)" font-family="Liberation Serif, serif" font-size="16.5" font-weight="bold" font-style="italic" fill="#000">σ</text>
<text x="336.90000000000003" y="46.7" font-family="Liberation Serif, serif" font-size="11" font-weight="bold" font-style="italic" fill="#000">h</text>
<text x="349.5" y="43.5" font-family="Liberation Serif, serif" font-size="16.1" fill="#000">(psi/ft)</text>
</g>
<g id="plot3">
<g stroke="#d4d4d4" stroke-width="1">
<line x1="502.9" y1="138.6" x2="667.1" y2="138.6"/>
<line x1="502.9" y1="199.0" x2="667.1" y2="199.0"/>
<line x1="502.9" y1="259.5" x2="667.1" y2="259.5"/>
<line x1="502.9" y1="320.0" x2="667.1" y2="320.0"/>
<line x1="502.9" y1="380.4" x2="667.1" y2="380.4"/>
<line x1="502.9" y1="440.9" x2="667.1" y2="440.9"/>
<line x1="502.9" y1="501.4" x2="667.1" y2="501.4"/>
<line x1="502.9" y1="561.8" x2="667.1" y2="561.8"/>
<line x1="558.2" y1="76.9" x2="558.2" y2="622.9"/>
<line x1="612.3" y1="76.9" x2="612.3" y2="622.9"/>
</g>
<rect x="502.9" y="76.9" width="164.2" height="2.5" fill="#a4a4a4"/>
<rect x="502.9" y="76.9" width="2.2" height="546.0" fill="#a4a4a4"/>
<rect x="502.9" y="76.9" width="164.2" height="1.2" fill="#8c8c8c"/>
<rect x="502.9" y="76.9" width="1.2" height="546.0" fill="#8c8c8c"/>
<rect x="665.2" y="76.9" width="1.9" height="546.0" fill="#000"/>
<rect x="502.9" y="620.9" width="164.2" height="2" fill="#000"/>
<clipPath id="cp2"><rect x="502.9" y="76.9" width="164.20000000000005" height="546.0"/></clipPath>
<g clip-path="url(#cp2)" fill="none" stroke-width="2.35" stroke-linejoin="round" stroke-linecap="round">
<path d="M531.4,78.3C531.4,79.0 531.7,80.0 532.0,80.7C532.4,81.8 533.0,83.2 533.8,84.2C534.6,85.2 536.2,86.7 537.3,87.7C538.6,88.9 540.6,90.6 542.0,91.8C543.4,93.0 545.1,94.7 546.7,95.9C547.6,96.6 548.7,97.5 550.2,98.2C551.0,98.6 552.1,99.0 554.3,99.4C555.0,99.5 557.7,99.7 560.0,99.8L566.0,100.0C575.9,101.0 595.0,102.4 595.0,103.4C595.0,104.6 563.0,106.2 563.0,107.4C563.0,107.9 582.0,108.5 582.0,109.0C582.0,110.0 581.7,111.4 579.0,112.4C566.7,114.1 527.7,116.3 516.0,118.0C515.1,119.1 515.0,120.5 515.0,121.6C515.0,122.2 584.0,123.0 584.0,123.6C584.0,124.9 566.0,126.7 566.0,128.0C566.0,128.8 586.0,129.8 586.0,130.6C586.0,132.3 554.0,134.7 554.0,136.4C554.0,137.8 583.0,139.6 583.0,141.0C583.0,142.2 558.0,143.8 558.0,145.0C558.0,145.2 576.0,145.4 576.0,145.6C576.0,146.5 549.0,147.7 549.0,148.6C549.0,152.0 564.9,156.6 570.0,160.0C571.8,161.2 571.3,162.8 572.0,164.0C572.5,164.9 574.0,166.1 574.0,167.0C574.0,167.6 570.0,168.4 570.0,169.0C570.0,170.6 606.0,172.8 606.0,174.4C606.0,175.2 597.0,176.2 597.0,177.0C597.0,177.3 608.0,177.7 608.0,178.0C608.0,180.0 575.0,182.6 575.0,184.6C575.0,185.0 579.0,185.6 579.0,186.0C579.0,186.7 576.0,187.7 576.0,188.4C576.0,189.6 591.0,191.2 591.0,192.4C591.0,193.7 577.0,195.3 577.0,196.6C577.0,197.3 594.0,198.3 594.0,199.0C594.0,202.3 571.0,206.7 571.0,210.0C571.0,210.6 572.0,211.4 572.0,212.0C572.0,213.5 568.0,215.5 565.0,217.0C562.6,218.2 554.0,219.8 554.0,221.0C554.0,221.4 556.0,222.0 556.0,222.4C556.0,223.8 549.0,225.6 549.0,227.0C549.0,229.4 590.0,232.6 590.0,235.0C590.0,236.2 569.0,237.8 569.0,239.0C569.0,239.6 570.0,240.4 570.0,241.0C570.0,242.0 550.0,243.4 550.0,244.4C550.0,245.6 559.0,247.2 559.0,248.4L550.0,248.4C550.0,252.4 570.0,257.6 570.0,261.6C570.0,263.8 556.0,266.8 556.0,269.0C556.0,269.3 569.6,269.7 571.0,270.0C578.0,271.5 581.1,273.5 584.0,275.0C587.4,276.8 592.0,279.2 592.0,281.0C592.0,281.8 563.0,282.8 563.0,283.6C563.0,285.2 577.0,287.4 577.0,289.0C577.0,289.2 563.0,289.4 563.0,289.6C563.0,290.3 576.0,291.3 576.0,292.0C576.0,292.6 573.0,293.4 573.0,294.0C573.0,295.2 576.0,296.8 576.0,298.0C576.0,300.1 571.8,302.9 566.0,305.0C565.2,305.3 554.0,305.7 554.0,306.0C554.0,307.5 562.0,309.5 565.0,311.0C566.5,311.8 569.0,312.8 569.0,313.6C569.0,314.6 563.0,316.0 563.0,317.0C563.0,317.4 581.0,318.0 581.0,318.4C581.0,318.8 575.0,319.2 575.0,319.6C575.0,321.8 578.0,324.8 578.0,327.0C578.0,328.5 565.0,330.5 565.0,332.0C565.0,333.1 574.0,334.5 574.0,335.6C574.0,336.9 563.0,338.7 563.0,340.0C563.0,341.2 571.0,342.8 571.0,344.0C571.0,345.1 544.0,346.5 544.0,347.6C544.0,348.0 549.0,348.6 549.0,349.0C549.0,350.3 534.0,352.1 534.0,353.4C534.0,355.1 568.0,357.3 568.0,359.0C568.0,359.9 545.0,361.1 545.0,362.0C545.0,362.7 565.0,363.7 565.0,364.4C565.0,366.0 549.0,368.0 549.0,369.6C549.0,371.2 560.0,373.4 560.0,375.0C560.0,376.3 550.0,378.1 550.0,379.4C550.0,379.7 563.0,380.1 563.0,380.4C563.0,382.7 542.0,385.7 542.0,388.0C542.0,389.1 559.9,390.5 564.0,391.6C568.6,392.8 571.0,394.4 571.0,395.6C571.0,397.8 565.1,400.8 563.0,403.0C561.8,404.2 560.6,405.8 560.0,407.0C559.4,408.2 559.0,409.8 559.0,411.0C559.0,412.4 572.0,414.2 572.0,415.6C572.0,416.6 547.8,418.0 545.0,419.0C543.2,421.1 543.0,423.9 543.0,426.0C543.0,427.5 550.0,429.5 552.0,431.0C553.9,432.4 556.0,434.2 556.0,435.6C556.0,436.2 544.3,437.0 543.0,437.6C542.1,438.9 542.9,440.7 542.0,442.0C539.6,443.3 527.0,445.1 527.0,446.4C527.0,447.2 549.0,448.2 549.0,449.0C549.0,450.0 532.0,451.4 532.0,452.4C532.0,452.8 539.0,453.2 539.0,453.6C539.0,454.3 537.0,455.3 537.0,456.0C537.0,457.1 539.5,458.5 551.0,459.6C553.6,459.8 580.3,460.2 584.0,460.4C596.2,461.2 600.0,462.2 604.0,463.0C610.2,464.2 618.0,465.8 618.0,467.0C618.0,467.9 587.1,469.1 580.0,470.0C563.4,472.1 549.5,474.9 539.0,477.0C533.0,478.2 525.0,479.8 525.0,481.0C525.0,481.6 575.5,482.4 585.0,483.0C599.2,483.9 599.0,485.1 604.0,486.0C607.4,486.6 613.0,487.4 613.0,488.0C613.0,488.9 602.4,490.1 592.0,491.0C581.6,491.9 544.0,493.1 544.0,494.0C544.0,494.6 562.0,495.4 562.0,496.0C562.0,496.9 541.0,498.1 541.0,499.0C541.0,499.6 564.0,500.4 564.0,501.0C564.0,502.4 543.0,504.2 543.0,505.6C543.0,506.9 543.1,508.7 544.0,510.0C545.0,510.5 556.0,511.1 556.0,511.6C556.0,512.8 515.0,514.4 515.0,515.6C515.0,515.7 536.0,515.9 536.0,516.0C536.0,516.9 529.0,518.1 529.0,519.0C529.0,519.9 564.0,521.1 564.0,522.0C564.0,522.7 547.0,523.7 547.0,524.4C547.0,526.1 556.0,528.3 556.0,530.0C556.0,531.8 555.4,534.2 550.0,536.0C547.8,536.7 530.0,537.7 530.0,538.4C530.0,538.9 537.0,539.5 537.0,540.0C537.0,541.7 518.0,543.9 518.0,545.6C518.0,547.5 524.5,550.1 524.5,552.0C524.5,553.0 519.0,554.2 519.0,555.2C519.0,555.4 524.3,555.6 524.3,555.7C524.3,557.1 523.5,559.1 522.0,560.5C520.7,561.8 514.7,563.4 514.7,564.7" stroke="#3333FF"/>
<path d="M567.0,78.4C567.0,79.5 565.1,80.9 564.5,82.0C563.9,83.2 563.0,84.8 563.0,86.0C563.0,87.0 563.0,88.5 563.3,89.5C563.6,90.5 564.4,92.0 565.0,93.0C565.6,94.0 567.6,95.5 567.6,96.5C567.6,97.1 567.6,98.0 567.2,98.6C566.9,99.0 565.0,99.6 565.0,100.0C565.0,100.6 592.0,101.4 592.0,102.0C592.0,103.5 572.0,105.5 572.0,107.0L585.0,106.0C588.6,107.9 589.0,110.5 589.0,112.4C589.0,114.4 548.0,117.0 548.0,119.0C548.0,119.8 548.1,120.8 549.0,121.6C553.7,122.2 584.0,123.0 584.0,123.6C584.0,124.6 570.0,126.0 570.0,127.0C570.0,127.9 586.0,129.1 586.0,130.0C586.0,131.2 571.0,132.8 571.0,134.0C571.0,136.1 584.0,138.9 584.0,141.0C584.0,142.0 572.0,143.4 572.0,144.4C572.0,144.8 585.0,145.2 585.0,145.6C585.0,146.3 567.0,147.3 567.0,148.0C567.0,151.0 571.0,155.0 571.0,158.0C571.0,159.5 556.0,161.5 556.0,163.0C556.0,165.1 556.2,167.9 558.0,170.0C567.6,172.4 616.0,175.6 616.0,178.0C616.0,178.9 580.0,180.1 574.0,181.0C569.5,182.2 570.0,183.8 569.0,185.0C568.0,186.2 567.0,187.8 567.0,189.0C567.0,190.2 576.0,191.8 576.0,193.0C576.0,194.4 569.0,196.2 569.0,197.6C569.0,198.1 595.0,198.9 595.0,199.4C595.0,202.9 555.0,207.5 555.0,211.0C555.0,212.5 558.0,214.5 558.0,216.0C558.0,217.5 543.0,219.5 543.0,221.0C543.0,221.6 546.0,222.4 546.0,223.0C546.0,224.2 539.0,225.8 539.0,227.0C539.0,229.4 576.0,232.6 576.0,235.0C576.0,236.2 560.7,237.8 556.0,239.0C549.0,240.8 537.0,243.2 537.0,245.0C537.0,246.2 539.3,247.8 541.0,249.0C546.8,253.2 562.0,258.8 562.0,263.0C562.0,264.9 542.0,267.5 542.0,269.4C542.0,269.6 553.5,269.8 554.0,270.0C564.3,273.6 578.0,278.4 578.0,282.0C578.0,282.6 557.0,283.4 557.0,284.0C557.0,285.2 560.0,286.8 560.0,288.0C560.0,288.4 555.0,289.0 555.0,289.4C555.0,289.9 560.0,290.5 560.0,291.0C560.0,291.9 559.0,293.1 559.0,294.0C559.0,295.2 566.0,296.8 566.0,298.0C566.0,300.1 560.8,302.9 554.0,305.0C552.6,305.4 539.0,306.0 539.0,306.4C539.0,308.7 558.0,311.7 558.0,314.0L549.0,311.0C549.0,312.2 559.0,313.8 559.0,315.0C559.0,315.8 542.0,316.8 542.0,317.6C542.0,317.8 559.4,318.2 560.0,318.4C565.4,321.0 566.0,324.4 566.0,327.0C566.0,328.2 554.0,329.8 554.0,331.0C554.0,332.2 564.0,333.8 564.0,335.0C564.0,335.9 553.0,337.1 553.0,338.0C553.0,339.9 571.0,342.5 571.0,344.4C571.0,345.5 550.0,346.9 550.0,348.0C550.0,348.9 554.0,350.1 554.0,351.0C554.0,351.6 541.0,352.4 541.0,353.0C541.0,354.5 567.0,356.5 567.0,358.0C567.0,359.2 556.0,360.8 556.0,362.0C556.0,362.6 570.0,363.4 570.0,364.0C570.0,365.8 558.0,368.2 558.0,370.0C558.0,371.8 564.0,374.2 564.0,376.0C564.0,376.9 556.0,378.1 556.0,379.0C556.0,379.6 568.0,380.4 568.0,381.0C568.0,382.5 554.0,384.5 554.0,386.0C554.0,387.5 563.0,389.5 563.0,391.0C563.0,393.1 561.0,395.9 561.0,398.0C561.0,400.4 564.0,403.6 564.0,406.0C564.0,408.1 558.0,410.9 558.0,413.0C558.0,413.3 565.0,413.7 565.0,414.0C565.0,415.5 550.0,417.5 550.0,419.0C550.0,421.7 550.1,425.3 551.0,428.0C551.6,428.6 561.0,429.4 561.0,430.0C561.0,430.6 556.0,431.4 556.0,432.0C556.0,433.5 560.0,435.5 560.0,437.0C560.0,438.2 550.8,439.8 549.0,441.0C548.1,442.2 548.9,443.8 548.0,445.0C547.0,445.6 539.0,446.4 539.0,447.0C539.0,447.9 553.0,449.1 553.0,450.0C553.0,451.5 540.0,453.5 540.0,455.0C540.0,455.6 548.6,456.4 550.0,457.0C550.9,457.8 550.1,458.8 551.0,459.6C555.2,460.2 576.6,461.0 582.0,461.6C591.3,462.6 593.4,464.0 600.0,465.0C603.9,465.6 617.0,466.4 617.0,467.0C617.0,467.9 598.4,469.1 592.0,470.0C577.1,472.1 557.0,474.9 546.0,477.0C538.7,478.4 531.0,480.2 531.0,481.6C531.0,481.8 571.9,482.2 576.0,482.4C592.6,483.4 594.1,484.6 600.0,485.6C605.2,486.4 613.0,487.6 613.0,488.4C613.0,489.5 599.8,490.9 588.0,492.0C581.5,492.6 552.0,493.4 552.0,494.0C552.0,494.9 584.0,496.1 584.0,497.0C584.0,497.6 550.0,498.4 550.0,499.0C550.0,499.3 578.0,499.7 578.0,500.0C578.0,500.7 556.0,501.7 556.0,502.4C556.0,502.9 574.0,503.5 574.0,504.0C574.0,504.6 550.0,505.4 550.0,506.0C550.0,506.9 550.6,508.1 556.0,509.0C559.8,509.6 582.0,510.4 582.0,511.0C582.0,512.2 515.0,513.8 515.0,515.0C515.0,515.4 547.0,516.0 547.0,516.4C547.0,517.5 537.0,518.9 537.0,520.0C537.0,520.6 564.0,521.4 564.0,522.0C564.0,522.7 552.0,523.7 552.0,524.4C552.0,525.8 561.0,527.6 561.0,529.0C561.0,531.1 560.5,533.9 556.0,536.0C554.0,536.9 539.0,538.1 539.0,539.0C539.0,539.3 552.0,539.7 552.0,540.0C552.0,542.0 522.6,544.8 522.6,546.8C522.6,548.6 534.9,551.1 534.9,552.9C534.9,553.7 526.1,554.7 526.1,555.5C526.1,555.8 537.5,556.1 537.5,556.4C537.5,556.7 531.7,557.0 531.4,557.3C529.8,558.9 531.2,561.0 529.6,562.6C528.7,563.2 520.8,564.1 520.8,564.7" stroke="#CC33FF"/>
</g>
<rect x="567.0" y="533.9" width="95.2" height="40.7" fill="#fff" stroke="#4472C4" stroke-width="1.4"/>
<g font-family="Liberation Sans, sans-serif" font-size="11.4" fill="#000" stroke="#000" stroke-width="0.2">
<text x="578.2" y="550.8" textLength="42.2" lengthAdjust="spacingAndGlyphs">R = 0.88</text>
<text x="578.2" y="567" textLength="73" lengthAdjust="spacingAndGlyphs">AAPE = 0.18%</text>
</g>
<rect x="505.05" y="578.15" width="158.80" height="38.50" fill="#fff" stroke="#4472C4" stroke-width="1.5"/>
<line x1="518.0" y1="587.3" x2="546.5" y2="587.3" stroke="#3333FF" stroke-width="2.4" stroke-linecap="round"/>
<line x1="518.0" y1="606.7" x2="546.5" y2="606.7" stroke="#CC33FF" stroke-width="2.4" stroke-linecap="round"/>
<g font-family="Liberation Sans, sans-serif" font-size="11.3" fill="#000" stroke="#000" stroke-width="0.22">
<text x="549.7" y="591.7" textLength="84.1" lengthAdjust="spacingAndGlyphs">Actual σh, psi/ft</text>
<text x="549.7" y="610.8" textLength="102.2" lengthAdjust="spacingAndGlyphs">Predicted σh, psi/ft</text>
</g>
<rect x="623.6" y="82.5" width="38.0" height="26.9" fill="#fff" stroke="#4472C4" stroke-width="1.35"/>
<text transform="translate(642.6,104.6) scale(0.84,1)" font-family="Liberation Sans, sans-serif" font-size="15.8" text-anchor="middle" fill="#000" stroke="#000" stroke-width="0.2">c</text>
<text x="489.79999999999995" y="83.5" font-family="Liberation Serif, serif" font-size="16.3" text-anchor="end" fill="#000">0</text>
<text x="489.79999999999995" y="144.0" font-family="Liberation Serif, serif" font-size="16.3" text-anchor="end" fill="#000">50</text>
<text x="489.79999999999995" y="204.4" font-family="Liberation Serif, serif" font-size="16.3" text-anchor="end" fill="#000">100</text>
<text x="489.79999999999995" y="264.9" font-family="Liberation Serif, serif" font-size="16.3" text-anchor="end" fill="#000">150</text>
<text x="489.79999999999995" y="325.4" font-family="Liberation Serif, serif" font-size="16.3" text-anchor="end" fill="#000">200</text>
<text x="489.79999999999995" y="385.8" font-family="Liberation Serif, serif" font-size="16.3" text-anchor="end" fill="#000">250</text>
<text x="489.79999999999995" y="446.3" font-family="Liberation Serif, serif" font-size="16.3" text-anchor="end" fill="#000">300</text>
<text x="489.79999999999995" y="506.8" font-family="Liberation Serif, serif" font-size="16.3" text-anchor="end" fill="#000">350</text>
<text x="489.79999999999995" y="567.2" font-family="Liberation Serif, serif" font-size="16.3" text-anchor="end" fill="#000">400</text>
<text x="489.79999999999995" y="627.7" font-family="Liberation Serif, serif" font-size="16.3" text-anchor="end" fill="#000">450</text>
<text x="503.7" y="64.5" font-family="Liberation Serif, serif" font-size="16.3" text-anchor="middle" fill="#000">0.87</text>
<text x="558" y="64.5" font-family="Liberation Serif, serif" font-size="16.3" text-anchor="middle" fill="#000">0.88</text>
<text x="612" y="64.5" font-family="Liberation Serif, serif" font-size="16.3" text-anchor="middle" fill="#000">0.89</text>
<text x="666.5" y="64.5" font-family="Liberation Serif, serif" font-size="16.3" text-anchor="middle" fill="#000">0.9</text>
<text transform="translate(554.0,43.5) scale(1.2,1)" font-family="Liberation Serif, serif" font-size="16.5" font-weight="bold" font-style="italic" fill="#000">σ</text>
<text x="564.8" y="46.7" font-family="Liberation Serif, serif" font-size="11" font-weight="bold" font-style="italic" fill="#000">h</text>
<text x="577.4" y="43.5" font-family="Liberation Serif, serif" font-size="16.1" fill="#000">(psi/ft)</text>
</g>
<text transform="translate(26.3,292) rotate(-90)" font-family="Liberation Serif, serif" font-size="16" font-weight="bold" text-anchor="middle" fill="#000">Index</text>
</svg></body></html>
